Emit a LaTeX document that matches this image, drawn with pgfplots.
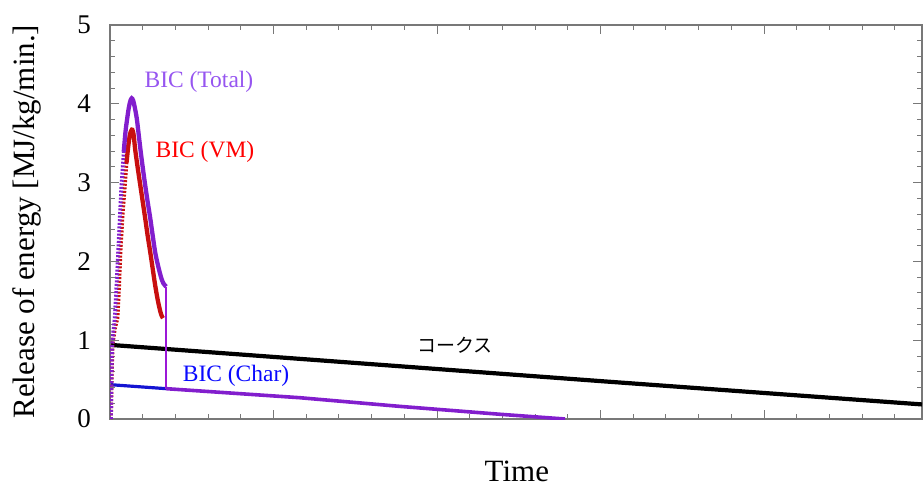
\documentclass[border=0pt]{standalone}
\usepackage{fontspec}
\setmainfont{Liberation Serif}
\newfontfamily\cjk{Noto Sans CJK JP}
\usepackage{pgfplots}
\pgfplotsset{compat=1.18}

\definecolor{totalline}{RGB}{130,30,205}
\definecolor{totaltext}{RGB}{150,85,240}
\definecolor{vmline}{RGB}{200,15,15}
\definecolor{vmtext}{RGB}{255,0,0}
\definecolor{charline}{RGB}{20,20,210}
\definecolor{chartext}{RGB}{10,10,255}
\definecolor{frame}{RGB}{120,120,120}

\begin{document}
\begin{tikzpicture}
\begin{axis}[
  at={(110pt,72pt)}, anchor=south west,
  scale only axis, width=812pt, height=394pt,
  xmin=0, xmax=4.966, ymin=0, ymax=5,
  xtick distance=1, minor x tick num=4,
  ytick={0,1,2,3,4,5}, minor y tick num=4,
  xticklabels={},
  tick pos=both, tick align=inside,
  major tick length=9pt, minor tick length=5pt,
  axis line style={frame, line width=1.2pt},
  every tick/.style={frame, line width=0.9pt},
  /pgf/number format/assume math mode=true,
  yticklabel style={font=\rmfamily\fontsize{27}{31}\selectfont, inner sep=0pt, xshift=-19pt},
  xlabel={Time},
  xlabel style={font=\rmfamily\fontsize{31}{36}\selectfont, at={(axis description cs:0.501,-0.134)}, anchor=center},
  ylabel={Release of energy [MJ/kg/min.]},
  ylabel style={font=\rmfamily\fontsize{31}{36}\selectfont, at={(axis description cs:-0.102,0.501)}, anchor=center, rotate=0},
  clip=true,
]

% coke: slow linear burn-out
\addplot[black, line width=4.2pt] coordinates {(0.006,0.94) (1.346,0.735) (3.006,0.48) (4.966,0.185)};

% char part of BIC while volatiles are still released
\addplot[charline, line width=3.2pt] coordinates {(0.006,0.435) (0.343,0.385)};

% rising flanks (dotted)
\addplot[vmline, line width=3.8pt, dash pattern=on 2pt off 1.6pt] coordinates {
  (0.006,0) (0.010,0.5) (0.016,0.95) (0.030,1.15) (0.046,1.28) (0.056,1.70)
  (0.064,2.12) (0.076,2.55) (0.091,2.97) (0.101,3.25)};
\addplot[totalline, line width=3.8pt, dash pattern=on 2pt off 1.6pt] coordinates {
  (0.006,0) (0.009,0.5) (0.012,0.9) (0.020,1.1) (0.029,1.28) (0.040,1.70)
  (0.050,2.12) (0.060,2.55) (0.070,2.97) (0.084,3.39)};

% volatile matter
\addplot[vmline, line width=4.3pt, smooth] coordinates {
  (0.101,3.25) (0.111,3.45) (0.121,3.60) (0.130,3.66) (0.137,3.67)
  (0.145,3.60) (0.154,3.42) (0.170,3.18) (0.185,2.97) (0.200,2.76) (0.215,2.55)
  (0.230,2.33) (0.246,2.12) (0.261,1.91) (0.276,1.70) (0.292,1.51) (0.307,1.37)
  (0.316,1.31) (0.324,1.28)};

% total = volatiles + char
\addplot[totalline, line width=4.3pt, smooth] coordinates {
  (0.084,3.39) (0.095,3.65) (0.105,3.81) (0.115,3.95) (0.125,4.04)
  (0.133,4.07) (0.142,4.04) (0.152,3.95) (0.164,3.81) (0.176,3.60) (0.188,3.39)
  (0.201,3.18) (0.215,2.97) (0.230,2.76) (0.246,2.55) (0.261,2.33) (0.276,2.12)
  (0.290,1.98) (0.303,1.87) (0.315,1.78) (0.327,1.72) (0.343,1.68)};
\addplot[totalline!80!magenta, line width=2.6pt] coordinates {(0.343,1.68) (0.343,0.385)};
\addplot[totalline, line width=3.6pt] coordinates {
  (0.343,0.385) (1.162,0.27) (1.774,0.16) (2.385,0.06) (2.783,0.0)};

\node[font=\rmfamily\fontsize{23.5}{27}\selectfont, text=totaltext] at (axis cs:0.544,4.28) {BIC (Total)};
\node[font=\rmfamily\fontsize{23.5}{27}\selectfont, text=vmtext] at (axis cs:0.581,3.39) {BIC (VM)};
\node[font=\rmfamily\fontsize{23.5}{27}\selectfont, text=chartext] at (axis cs:0.771,0.55) {BIC (Char)};
\node[font=\cjk\fontsize{19}{23}\selectfont, text=black] at (axis cs:2.110,0.93) {コークス};
\end{axis}
\pgfresetboundingbox
\useasboundingbox (0,0) rectangle (923pt,491pt);
\end{tikzpicture}
\end{document}
